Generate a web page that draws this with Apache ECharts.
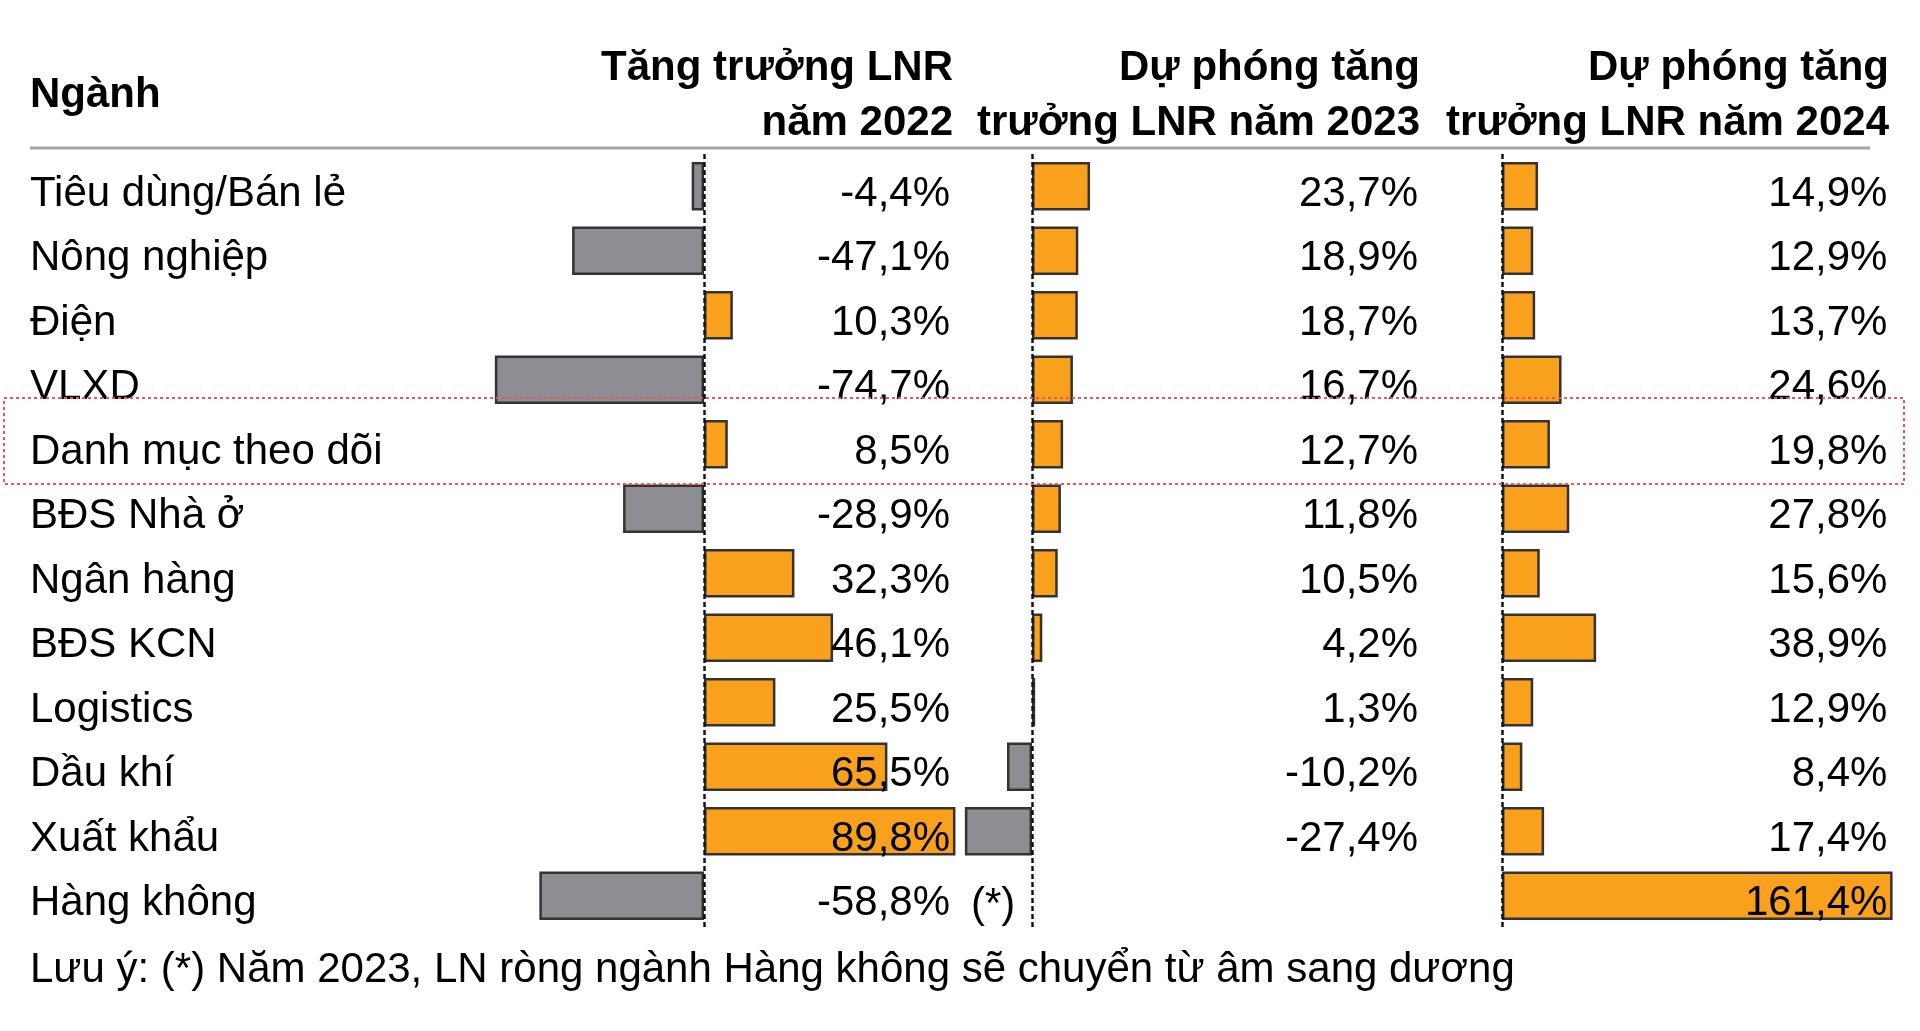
<!DOCTYPE html>
<html>
<head>
<meta charset="utf-8">
<script src="https://cdn.jsdelivr.net/npm/echarts@6/dist/echarts.min.js"></script>
<style>
html,body{margin:0;padding:0;background:#fff;}
#c{width:1920px;height:1031px;}
</style>
</head>
<body>
<div id="c"></div>
<script>
const categories = ['Tiêu dùng/Bán lẻ','Nông nghiệp','Điện','VLXD','Danh mục theo dõi','BĐS Nhà ở','Ngân hàng','BĐS KCN','Logistics','Dầu khí','Xuất khẩu','Hàng không'];
const growth2022 = [-4.4,-47.1,10.3,-74.7,8.5,-28.9,32.3,46.1,25.5,65.5,89.8,-58.8];
const forecast2023 = [23.7,18.9,18.7,16.7,12.7,11.8,10.5,4.2,1.3,-10.2,-27.4,null];
const forecast2024 = [14.9,12.9,13.7,24.6,19.8,27.8,15.6,38.9,12.9,8.4,17.4,161.4];
const headers = [['Tăng trưởng LNR','năm 2022'],['Dự phóng tăng','trưởng LNR năm 2023'],['Dự phóng tăng','trưởng LNR năm 2024']];
const footnote = 'Lưu ý: (*) Năm 2023, LN ròng ngành Hàng không sẽ chuyển từ âm sang dương';

const FONT = '"Liberation Sans", Arial, sans-serif';
const ORANGE = '#F9A11C';
const GRAY = '#8D8E93';
const fmt = v => (v === null || v === undefined) ? '' : v.toFixed(1).replace('.', ',') + '%';

const chart = echarts.init(document.getElementById('c'));

const panels = [
  {data: growth2022, left: 480, width: 504, min: -80, max: 100, labelMargin: -34},
  {data: forecast2023, left: 934, width: 245, min: -40, max: 60, labelMargin: 239},
  {data: forecast2024, left: 1502, width: 411.4, min: 0, max: 170, labelMargin: -26}
];

const textLabel = {fontFamily: FONT, fontSize: 42, color: '#000', verticalAlign: 'top', lineHeight: 16};

const grids = [], xAxes = [], yAxes = [], series = [];
panels.forEach((p, i) => {
  grids.push({left: p.left, width: p.width, top: 154, height: 774, containLabel: false});
  xAxes.push({type: 'value', gridIndex: i, min: p.min, max: p.max, show: false});
  yAxes.push({
    type: 'category', gridIndex: i, data: categories, inverse: true, position: 'left',
    axisLine: {show: false}, axisTick: {show: false}, splitLine: {show: false},
    axisLabel: i === 0 ? Object.assign({show: true, interval: 0, align: 'left', margin: 450}, textLabel) : {show: false},
    z: 5
  });
  yAxes.push({
    type: 'category', gridIndex: i, data: p.data.map(fmt), inverse: true, position: 'right',
    axisLine: {show: false}, axisTick: {show: false}, splitLine: {show: false},
    axisLabel: Object.assign({show: true, interval: 0, align: 'right', margin: p.labelMargin}, textLabel),
    z: 5
  });
  series.push({
    type: 'bar', xAxisIndex: i, yAxisIndex: i * 2, data: p.data,
    barCategoryGap: '25%',
    itemStyle: {
      color: params => params.value < 0 ? GRAY : ORANGE,
      borderColor: '#333', borderWidth: 2.5
    },
    markLine: {
      silent: true, symbol: ['none', 'none'], label: {show: false},
      lineStyle: {type: [5, 3], color: '#111', width: 2.5},
      data: [{xAxis: 0}]
    },
    z: 2
  });
});

const graphic = [];
graphic.push({type: 'text', x: 30, y: 95, style: {text: 'Ngành', font: 'bold 42px ' + FONT, fill: '#000', textAlign: 'left', textVerticalAlign: 'middle'}});
const headerRight = [953, 1420, 1889];
headers.forEach((h, i) => {
  graphic.push({type: 'text', x: headerRight[i], y: 68, style: {text: h[0], font: 'bold 42px ' + FONT, fill: '#000', textAlign: 'right', textVerticalAlign: 'middle'}});
  graphic.push({type: 'text', x: headerRight[i], y: 123, style: {text: h[1], font: 'bold 42px ' + FONT, fill: '#000', textAlign: 'right', textVerticalAlign: 'middle'}});
});
graphic.push({type: 'line', shape: {x1: 30, y1: 148, x2: 1870, y2: 148}, style: {stroke: '#A6A6A6', lineWidth: 3}});
graphic.push({type: 'text', x: 971, y: 905, style: {text: '(*)', font: '42px ' + FONT, fill: '#000', textAlign: 'left', textVerticalAlign: 'middle'}});
graphic.push({type: 'text', x: 30, y: 970, style: {text: footnote, font: '42px ' + FONT, fill: '#000', textAlign: 'left', textVerticalAlign: 'middle'}});
graphic.push({type: 'rect', shape: {x: 4, y: 398, width: 1900, height: 86}, style: {fill: 'none', stroke: '#F05555', lineWidth: 2, lineDash: [3, 3]}, z: 10});

chart.setOption({
  animation: false,
  backgroundColor: '#fff',
  grid: grids,
  xAxis: xAxes,
  yAxis: yAxes,
  series: series,
  graphic: graphic
});
</script>
</body>
</html>
